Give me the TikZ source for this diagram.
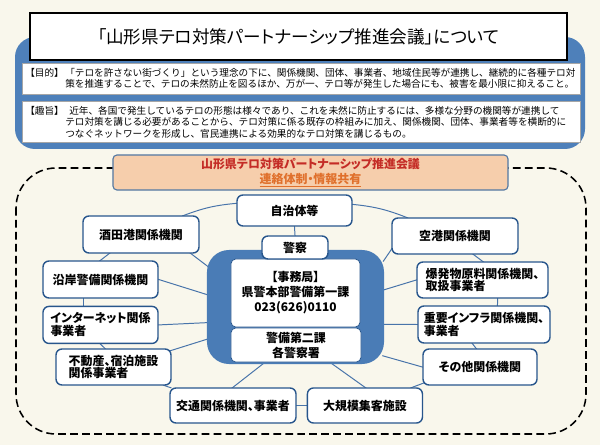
\documentclass[tikz,border=0pt]{standalone}
\usepackage{fontspec}
\setmainfont{Noto Sans CJK JP}
\newfontfamily\propfont{Noto Sans CJK JP}[RawFeature=+palt]
\usepackage{tikz}
\usetikzlibrary{positioning,backgrounds}
\definecolor{paper}{RGB}{249,247,236}
\definecolor{panelblue}{RGB}{78,128,186}
\definecolor{hubblue}{RGB}{74,124,182}
\definecolor{edgeblue}{RGB}{40,86,140}
\definecolor{linkblue}{RGB}{72,116,170}
\definecolor{peach}{RGB}{246,206,172}
\definecolor{titlered}{RGB}{196,44,38}
\definecolor{linkorange}{RGB}{224,112,44}

\begin{document}
\begin{tikzpicture}[x=0.025cm, y=-0.025cm, node distance=0.175cm and 0.25cm,
  org/.style={draw=edgeblue, line width=1pt, fill=white, rounded corners=0.15cm,
    inner sep=1pt, minimum height=0.925cm, align=center,
    font=\propfont\bfseries\fontsize{8.5}{9.2}\selectfont},
  deskbox/.style={fill=white, draw=edgeblue, line width=0.5pt, rounded corners=0.12cm,
    inner sep=1pt, align=center, font=\propfont\bfseries\fontsize{8.5}{10.6}\selectfont},
  link/.style={draw=linkblue, line width=0.7pt, shorten <=-1.5pt, shorten >=-1.5pt},
  infobox/.style={fill=white, draw=black!35, line width=0.4pt, inner sep=0pt},
  bodytext/.style={inner sep=0pt, anchor=north west, align=left,
    font=\fontsize{6.85}{8.2}\selectfont}]
  \useasboundingbox (0,0) rectangle (600,445);
  \begin{pgfonlayer}{background}
    \fill[paper] (0,0) rectangle (600,445);
  \end{pgfonlayer}

  % Outline panel
  \fill[panelblue, rounded corners=0.5cm] (15,37) rectangle (585,149);
  \node[draw=black, line width=1pt, fill=white, minimum width=13.425cm, minimum height=1.175cm,
    font=\propfont\fontsize{12.5}{14}\selectfont] (title) at (298.5,36.5)
    {「山形県テロ対策パートナーシップ推進会議」について};
  \node[infobox, minimum width=13.95cm, minimum height=0.775cm] (purposebox) at (301,78.5) {};
  \node[infobox, minimum width=13.95cm, minimum height=1.025cm] (aimbox) at (301,121.5) {};
  \node[bodytext] (purposelabel) at (25,68) {【目的】};
  \node[bodytext] (purposetext) at (65,68)
    {「テロを許さない街づくり」という理念の下に、関係機関、団体、事業者、地域住民等が連携し、継続的に各種テロ対\\
     策を推進することで、テロの未然防止を図るほか、万が一、テロ等が発生した場合にも、被害を最小限に抑えること。};
  \node[bodytext] (aimlabel) at (25,106) {【趣旨】};
  \node[bodytext] (aimtext) at (65,106)
    {\hspace{0.1cm}近年、各国で発生しているテロの形態は様々であり、これを未然に防止するには、多様な分野の機関等が連携して\\
     テロ対策を講じる必要があることから、テロ対策に係る既存の枠組みに加え、関係機関、団体、事業者等を横断的に\\
     つなぐネットワークを形成し、官民連携による効果的なテロ対策を講じるもの。};

  % Network frame
  \draw[black, line width=1.1pt, dash pattern=on 5.5pt off 3pt, rounded corners=1cm]
    (16,168) rectangle (586,434);
  \node[draw=edgeblue!80, line width=0.8pt, fill=peach, rounded corners=0.1cm,
    minimum width=9.875cm, minimum height=0.875cm, inner sep=0pt, align=center,
    font=\propfont\bfseries\fontsize{8.5}{10.6}\selectfont] (council) at (310.5,172.5)
    {\textcolor{titlered}{山形県テロ対策パートナーシップ推進会議}\\
     \textcolor{linkorange}{\underline{連絡体制・情報共有}}};

  % Define nodes
  \node[fill=hubblue, rounded corners=0.55cm, minimum width=4.425cm, minimum height=2.85cm,
    inner sep=0pt] (hub) at (295.5,307) {};
  \node[deskbox, minimum width=3.225cm, minimum height=1.7cm] (office) at (295.5,293)
    {【事務局】\\県警本部警備第一課\\023(626)0110};
  \node[deskbox, minimum width=3.25cm, minimum height=0.85cm] (division) at (296,345)
    {警備第二課\\各警察署};
  \node[org, minimum width=1.65cm, minimum height=0.575cm] (police) at (295,247.5) {警察};
  \node[org, minimum width=2.875cm, minimum height=0.775cm] (city) at (294.5,210.5) {自治体等};
  \node[org, minimum width=2.9cm] (sakata) at (141,234.5) {酒田港関係機関};
  \node[org, minimum width=2.875cm] (coast) at (100.5,279.5) {沿岸警備関係機関};
  \node[org, minimum width=2.875cm, align=left, below=of coast] (internet) {インターネット関係\\事業者};
  \node[org, minimum width=2.875cm, minimum height=0.9cm, align=left] (realty) at (113.5,367)
    {不動産、宿泊施設\\関係事業者};
  \node[org, minimum width=3.15cm, minimum height=0.875cm] (transport) at (233,405.5)
    {交通関係機関、事業者};
  \node[org, minimum width=2.875cm, minimum height=0.875cm, right=of transport] (venue)
    {大規模集客施設};
  \node[org, minimum width=2.85cm, minimum height=0.9cm] (other) at (480,367) {その他関係機関};
  \node[org, minimum width=3.3cm, align=left] (infra) at (484,324.5)
    {重要インフラ関係機関、\\事業者};
  \node[org, minimum width=3.275cm, minimum height=0.9cm, align=left] (explosive) at (482.5,280)
    {爆発物原料関係機関、\\取扱事業者};
  \node[org, minimum width=3.15cm, minimum height=0.9cm] (airport) at (455,236) {空港関係機関};

  % Draw links
  \begin{pgfonlayer}{background}
    \draw[link] (city.173) to[bend right=8] (sakata.24);
    \draw[link] (sakata.211) -- (coast.north);
    \draw[link] (coast.228) -- (internet.132);
    \draw[link] (internet.south) -- (realty.115);
    \draw[link] (realty.-20) -- (transport.164);
    \draw[link] (transport.east) -- (venue.west);
    \draw[link] (venue.21) -- (other.196);
    \draw[link] (other.102) -- (infra.239);
    \draw[link] (infra.55) -- (explosive.-51);
    \draw[link] (explosive.north) -- (airport.-45);
    \draw[link] (city.6) to[bend left=8] (airport.159);

    \draw[link] (city.south) -- (police.north);
    \draw[link] (sakata.-21) -- (hub.155);
    \draw[link] (coast.east) -- (hub.172);
    \draw[link] (internet.east) -- (hub.190);
    \draw[link] (realty.16) -- (hub.200);
    \draw[link] (transport.north) -- (hub.240);
    \draw[link] (venue.north) -- (hub.-57);
    \draw[link] (other.west) -- (hub.-29);
    \draw[link] (infra.west) -- (hub.-11.5);
    \draw[link] (explosive.west) -- (hub.11.5);
    \draw[link] (airport.192) -- (hub.28);
  \end{pgfonlayer}
\end{tikzpicture}
\end{document}
